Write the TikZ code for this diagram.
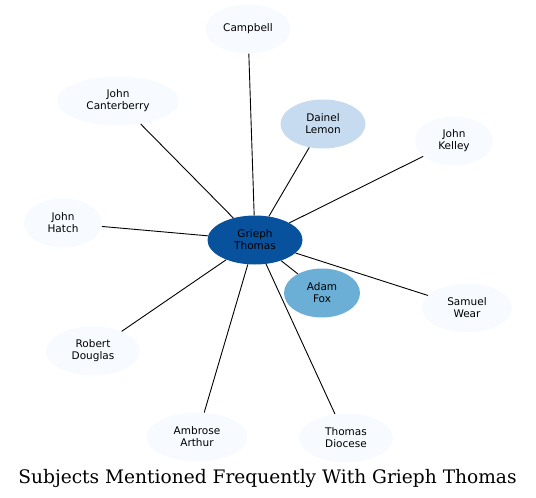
\documentclass[tikz,border=0pt]{standalone}
\usepackage{fontspec}
\newfontfamily\nodefont{DejaVu Sans}
\newfontfamily\titlefont{DejaVu Serif}
\usetikzlibrary{shapes.geometric}
\definecolor{blueA}{HTML}{08519C}
\definecolor{blueB}{HTML}{6BAED6}
\definecolor{blueC}{HTML}{C6DBEF}
\definecolor{blueD}{HTML}{F7FBFF}
\begin{document}
\begin{tikzpicture}[x=1pt, y=-1pt,
    subj/.style={ellipse, fill=blueD, inner sep=0pt, minimum height=49pt,
      align=center, font=\nodefont\fontsize{10.5}{12}\selectfont},
    link/.style={line width=0.9pt}]
    \useasboundingbox (0,0) rectangle (536,498);
    \node[subj, fill=blueA, minimum width=95pt] (grieph) at (255,240) {Grieph\\Thomas};
    \node[subj, minimum width=85pt] (campbell) at (248,29) {Campbell};
    \node[subj, minimum width=122pt] (canterberry) at (118,101) {John\\Canterberry};
    \node[subj, fill=blueC, minimum width=85pt] (lemon) at (323,124) {Dainel\\Lemon};
    \node[subj, minimum width=78pt] (kelley) at (454,141) {John\\Kelley};
    \node[subj, minimum width=78pt] (hatch) at (63,223) {John\\Hatch};
    \node[subj, fill=blueB, minimum width=76pt] (fox) at (322,293) {Adam\\Fox};
    \node[subj, minimum width=90pt] (wear) at (467,308) {Samuel\\Wear};
    \node[subj, minimum width=94pt] (douglas) at (93,351) {Robert\\Douglas};
    \node[subj, minimum width=101pt] (arthur) at (197,437) {Ambrose\\Arthur};
    \node[subj, minimum width=94pt] (diocese) at (346,438) {Thomas\\Diocese};
    % spokes from the centre
    \foreach \n in {campbell,canterberry,lemon,kelley,hatch,fox,wear,douglas,arthur,diocese}
      \draw[link] (grieph) -- (\n);
    \node[anchor=base, font=\titlefont\fontsize{18.6}{22}\selectfont] (title) at (267.5,483)
      {Subjects Mentioned Frequently With Grieph Thomas};
\end{tikzpicture}
\end{document}
